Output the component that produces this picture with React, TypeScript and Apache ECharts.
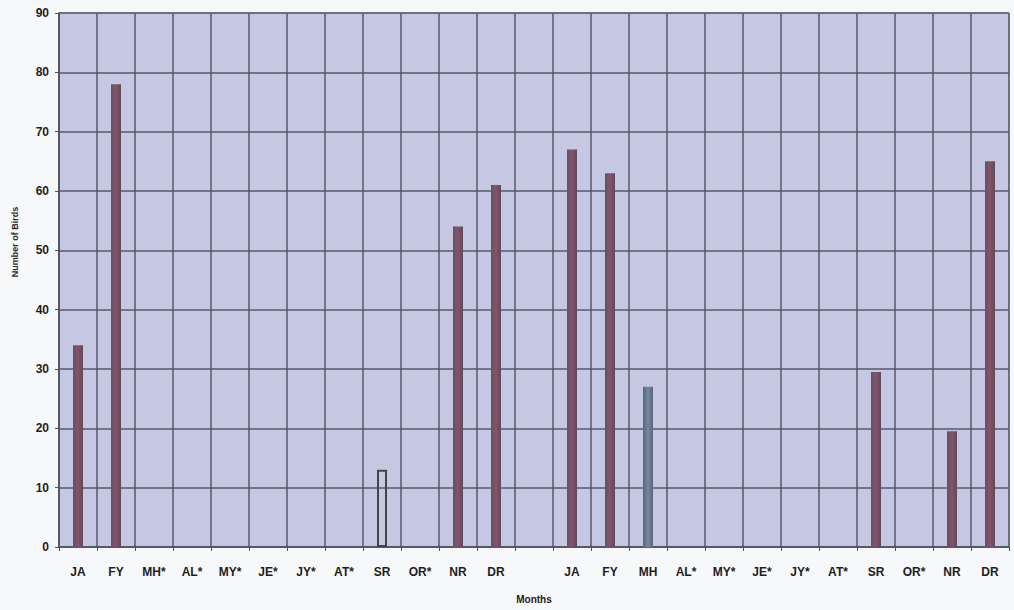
import React, { useEffect, useRef } from "react";
import * as echarts from "echarts";

const monthsYear1 = ["JA", "FY", "MH*", "AL*", "MY*", "JE*", "JY*", "AT*", "SR", "OR*", "NR", "DR"];
const monthsYear2 = ["JA", "FY", "MH", "AL*", "MY*", "JE*", "JY*", "AT*", "SR", "OR*", "NR", "DR"];
const birdsYear1: (number | null)[] = [34, 78, null, null, null, null, null, null, 13, null, 54, 61];
const birdsYear2: (number | null)[] = [67, 63, 27, null, null, null, null, null, 29.5, null, 19.5, 65];
const yTicks = { min: 0, max: 90, interval: 10 };

const categories = [...monthsYear1, " ", ...monthsYear2];
const values = [...birdsYear1, null, ...birdsYear2];

const maroon = new echarts.graphic.LinearGradient(0, 0, 1, 0, [
  { offset: 0, color: "#5e5662" },
  { offset: 0.5, color: "#86526c" },
  { offset: 1, color: "#5f4a58" },
]);
const slate = new echarts.graphic.LinearGradient(0, 0, 1, 0, [
  { offset: 0, color: "#58687a" },
  { offset: 0.5, color: "#7688a0" },
  { offset: 1, color: "#58687a" },
]);

export default function App() {
  const ref = useRef<HTMLDivElement>(null);
  useEffect(() => {
    document.body.style.margin = "0";
    const chart = echarts.init(ref.current!, null, { renderer: "svg" });
    const data = values.map((v, i) => {
      if (v === null) return "-";
      if (i === 8) {
        return {
          value: v,
          itemStyle: { color: "rgba(0,0,0,0)", borderColor: "#3d4846", borderWidth: 2 },
        };
      }
      if (i === 15) return { value: v, itemStyle: { color: slate } };
      return { value: v, itemStyle: { color: maroon } };
    });
    chart.setOption({
      animation: false,
      backgroundColor: "#f7f8fa",
      textStyle: { fontFamily: "Liberation Sans" },
      grid: {
        left: 59,
        right: 5,
        top: 13,
        bottom: 63,
        show: true,
        backgroundColor: "#c6c8e3",
        borderColor: "#8a8c9a",
        borderWidth: 1,
      },
      xAxis: {
        type: "category",
        data: categories,
        name: "Months",
        nameLocation: "middle",
        nameGap: 47,
        nameTextStyle: { fontWeight: "bold", fontSize: 10, color: "#222" },
        axisLine: { lineStyle: { color: "#4d525c", width: 1.5 } },
        axisTick: { show: true, length: 4, lineStyle: { color: "#4d525c" } },
        axisLabel: { fontWeight: "bold", fontSize: 12, color: "#1e1e1e", margin: 19, interval: 0 },
        splitLine: { show: true, lineStyle: { color: "#555a66", width: 1.5 } },
      },
      yAxis: {
        type: "value",
        min: yTicks.min,
        max: yTicks.max,
        interval: yTicks.interval,
        axisLine: { show: true, lineStyle: { color: "#4d525c", width: 1.5 } },
        axisTick: { show: true, length: 4, lineStyle: { color: "#4d525c" } },
        axisLabel: { fontWeight: "bold", fontSize: 12, color: "#1e1e1e", margin: 10 },
        splitLine: { show: true, lineStyle: { color: "#555a66", width: 1.5 } },
      },
      graphic: [
        {
          type: "text",
          x: 15,
          y: 242,
          rotation: Math.PI / 2,
          style: {
            text: "Number of Birds",
            fontFamily: "Liberation Sans",
            fontWeight: "bold",
            fontSize: 9,
            fill: "#2a2a2a",
            align: "center",
            verticalAlign: "middle",
          },
        },
      ],
      series: [
        {
          type: "bar",
          name: "Number of Birds",
          data,
          barWidth: 10,
        },
      ],
    });
    return () => chart.dispose();
  }, []);
  return <div ref={ref} style={{ width: 1014, height: 610 }} />;
}
